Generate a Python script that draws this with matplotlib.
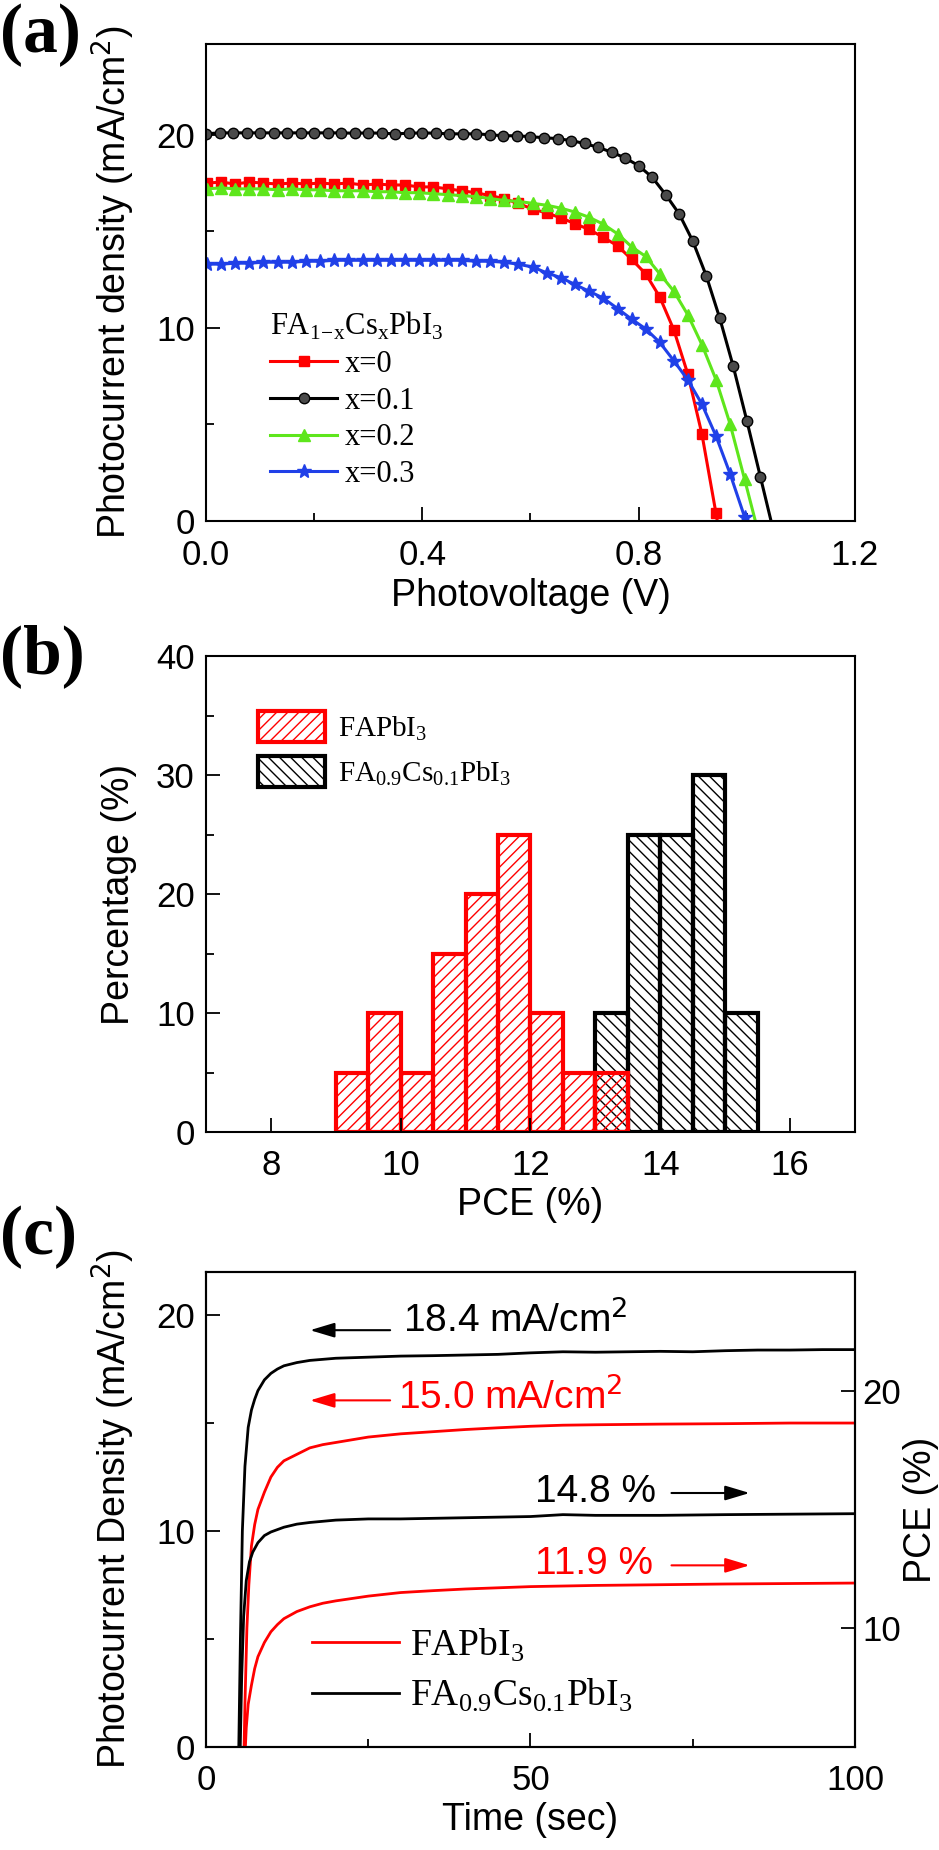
import matplotlib
matplotlib.use("Agg")
import matplotlib.pyplot as plt
from matplotlib.ticker import MultipleLocator

SANS = "Liberation Sans"
SERIF = "Liberation Serif"

# ---- (a) J-V curves, FA(1-x)Cs(x)PbI3 ----
v_x01 = [0.0, 0.025, 0.05, 0.075, 0.1, 0.125, 0.15, 0.175, 0.2, 0.225, 0.25, 0.275, 0.3, 0.325,
         0.35, 0.375, 0.4, 0.425, 0.45, 0.475, 0.5, 0.525, 0.55, 0.575, 0.6, 0.625, 0.65, 0.675,
         0.7, 0.725, 0.75, 0.775, 0.8, 0.825, 0.85, 0.875, 0.9, 0.925, 0.95, 0.975, 1.0, 1.025, 1.05]
j_x01 = [20.05, 20.1, 20.1, 20.1, 20.1, 20.1, 20.1, 20.1, 20.1, 20.1, 20.1, 20.08, 20.1, 20.08,
         20.05, 20.08, 20.1, 20.08, 20.05, 20.05, 20.05, 20.0, 19.95, 19.95, 19.9, 19.85, 19.8, 19.7,
         19.55, 19.35, 19.1, 18.8, 18.4, 17.8, 16.9, 15.9, 14.5, 12.7, 10.5, 8.0, 5.2, 2.3, -0.6]

v_grid = [0.002, 0.028, 0.054, 0.08, 0.106, 0.133, 0.159, 0.185, 0.211, 0.237, 0.263, 0.29, 0.316,
          0.342, 0.368, 0.394, 0.42, 0.447, 0.473, 0.499, 0.525, 0.551, 0.577, 0.604, 0.63, 0.656,
          0.682, 0.708, 0.734, 0.761, 0.787, 0.813, 0.839, 0.865, 0.891, 0.917, 0.943]

v_x0 = v_grid + [0.955]
j_x0 = [17.5, 17.55, 17.45, 17.55, 17.5, 17.45, 17.5, 17.45, 17.5, 17.45, 17.5, 17.4, 17.45,
        17.4, 17.4, 17.3, 17.3, 17.2, 17.1, 17.0, 16.85, 16.7, 16.45, 16.15, 15.95, 15.7,
        15.4, 15.1, 14.7, 14.25, 13.55, 12.8, 11.6, 9.9, 7.6, 4.5, 0.4, -1.6]

v_x02 = v_grid + [0.969, 0.996, 1.025]
j_x02 = [17.2, 17.25, 17.2, 17.2, 17.2, 17.15, 17.2, 17.15, 17.15, 17.1, 17.1, 17.1, 17.05,
         17.05, 17.0, 17.0, 16.95, 16.9, 16.85, 16.8, 16.7, 16.6, 16.55, 16.45, 16.35, 16.2,
         16.0, 15.73, 15.38, 14.87, 14.2, 13.7, 12.8, 11.9, 10.67, 9.13, 7.32, 5.03, 2.15, -1.0]

v_x03 = v_grid + [0.969, 0.996, 1.02]
j_x03 = [13.3, 13.3, 13.35, 13.35, 13.4, 13.4, 13.4, 13.45, 13.45, 13.5, 13.5, 13.5, 13.5,
         13.5, 13.5, 13.5, 13.5, 13.5, 13.5, 13.45, 13.45, 13.4, 13.3, 13.15, 12.85, 12.6,
         12.25, 11.9, 11.55, 11.0, 10.45, 9.95, 9.25, 8.3, 7.3, 6.05, 4.4, 2.45, 0.2, -2.0]

# ---- (b) PCE histogram ----
fa_bins = [9.0, 9.5, 10.0, 10.5, 11.0, 11.5, 12.0, 12.5, 13.0]
fa_pct = [5, 10, 5, 15, 20, 25, 10, 5, 5]
facs_bins = [13.0, 13.5, 14.0, 14.5, 15.0]
facs_pct = [10, 25, 25, 30, 10]
bin_w = 0.5

# ---- (c) stabilised output ----
t_facs_j = [5.0, 5.3, 5.6, 6.0, 6.5, 7.0, 7.5, 8.0, 9.0, 10, 11, 12, 14, 16, 18, 20, 25, 30, 35,
            40, 45, 50, 55, 60, 65, 70, 75, 80, 85, 90, 95, 100]
j_facs = [-1.0, 5.0, 10.0, 13.0, 14.8, 15.6, 16.1, 16.5, 17.0, 17.3, 17.5, 17.65, 17.8, 17.9, 17.95,
          18.0, 18.05, 18.1, 18.12, 18.15, 18.18, 18.25, 18.3, 18.28, 18.3, 18.32, 18.3, 18.35,
          18.38, 18.38, 18.4, 18.4]
t_fa_j = [5.8, 6.0, 6.3, 6.6, 7.0, 7.5, 8.0, 9.0, 10, 11, 12, 14, 16, 18, 20, 25, 30, 35, 40, 45,
          50, 55, 60, 70, 80, 90, 100]
j_fa = [-1.0, 2.0, 5.5, 7.5, 9.3, 10.3, 11.0, 11.8, 12.5, 12.95, 13.25, 13.55, 13.85, 14.0, 14.1,
        14.35, 14.5, 14.6, 14.7, 14.78, 14.85, 14.9, 14.92, 14.95, 14.97, 15.0, 15.0]
t_facs_p = [5.2, 5.5, 5.8, 6.2, 6.7, 7.2, 8, 9, 10, 12, 14, 16, 20, 25, 30, 40, 50, 55, 60, 70,
            80, 90, 100]
pce_facs = [4.0, 8.0, 10.5, 12.0, 12.8, 13.2, 13.6, 13.9, 14.05, 14.25, 14.38, 14.45, 14.55, 14.6,
            14.6, 14.65, 14.7, 14.78, 14.75, 14.75, 14.78, 14.8, 14.82]
t_fa_p = [5.9, 6.2, 6.5, 7.0, 7.5, 8, 9, 10, 11, 12, 14, 16, 18, 20, 25, 30, 35, 40, 50, 60, 70,
          80, 90, 100]
pce_fa = [4.0, 5.8, 6.8, 7.6, 8.3, 8.8, 9.4, 9.85, 10.15, 10.4, 10.7, 10.9, 11.05, 11.15, 11.35,
          11.5, 11.58, 11.65, 11.75, 11.8, 11.83, 11.86, 11.88, 11.9]

RED = "#ff0000"
GREEN = "#5ee61c"
BLUE = "#2040e8"

plt.rcParams["font.family"] = SANS
plt.rcParams["axes.linewidth"] = 1.5
plt.rcParams["hatch.linewidth"] = 1.0
TICK = 25
LAB = 27


def style_axis(ax, pad=8):
    ax.tick_params(which="both", direction="in", width=1.3, labelsize=TICK, pad=pad)
    ax.tick_params(which="major", length=10)
    ax.tick_params(which="minor", length=6)
    for lab in ax.get_xticklabels() + ax.get_yticklabels():
        lab.set_family(SANS)


fig = plt.figure(figsize=(9.39, 18.5), dpi=100)
left, width = 0.2194, 0.6911

# (a)
ax1 = fig.add_axes([left, 0.7184, width, 0.2578])
ax1.plot(v_x0, j_x0, color=RED, lw=2.2, marker="s", ms=7, label="x=0")
ax1.plot(v_x01, j_x01, color="black", lw=2.2, marker="o", ms=7.5, mfc="#4a4a4a", mec="black",
         label="x=0.1")
ax1.plot(v_x02, j_x02, color=GREEN, lw=2.2, marker="^", ms=8.5, label="x=0.2")
ax1.plot(v_x03, j_x03, color=BLUE, lw=2.2, marker="*", ms=10, label="x=0.3")
ax1.set_xlim(0, 1.2)
ax1.set_ylim(0, 24.7)
ax1.xaxis.set_minor_locator(MultipleLocator(0.2))
ax1.yaxis.set_major_locator(MultipleLocator(10))
ax1.yaxis.set_minor_locator(MultipleLocator(5))
ax1.set_xticks([0, 0.4, 0.8, 1.2], ["0.0", "0.4", "0.8", "1.2"])
style_axis(ax1)
ax1.tick_params(axis="x", pad=13)
ax1.set_xlabel("Photovoltage (V)", fontsize=LAB, labelpad=4)
ax1.set_ylabel("Photocurrent density (mA/cm$^2$)", fontsize=LAB, labelpad=14)
ax1.legend(loc="lower left", bbox_to_anchor=(0.075, 0.035), frameon=False,
           prop={"family": SERIF, "size": 22}, numpoints=1, handlelength=2.2,
           handletextpad=0.25, labelspacing=0.25, borderpad=0,
           title="FA$_{\\mathregular{1\\!-\\!x}}$Cs$_{\\mathregular{x}}$PbI$_{\\mathregular{3}}$",
           title_fontproperties={"family": SERIF, "size": 22}, alignment="left")

# (b)
ax2 = fig.add_axes([left, 0.3881, width, 0.2573])
ax2.bar(facs_bins, facs_pct, width=bin_w, align="edge", facecolor="none", edgecolor="black",
        hatch="\\\\\\", linewidth=3,
        label="FA$_{\\mathregular{0.9}}$Cs$_{\\mathregular{0.1}}$PbI$_{\\mathregular{3}}$")
ax2.bar(fa_bins, fa_pct, width=bin_w, align="edge", facecolor="none", edgecolor=RED,
        hatch="///", linewidth=3, label="FAPbI$_{\\mathregular{3}}$")
ax2.set_xlim(7, 17)
ax2.set_ylim(0, 40)
ax2.xaxis.set_major_locator(MultipleLocator(2))
ax2.yaxis.set_major_locator(MultipleLocator(10))
ax2.yaxis.set_minor_locator(MultipleLocator(5))
style_axis(ax2)
ax2.tick_params(axis="x", pad=12)
ax2.set_xlabel("PCE (%)", fontsize=LAB, labelpad=4)
ax2.set_ylabel("Percentage (%)", fontsize=LAB, labelpad=14)
h, l = ax2.get_legend_handles_labels()
ax2.legend(h[::-1], l[::-1], loc="upper left", bbox_to_anchor=(0.058, 0.915), frameon=False,
           prop={"family": SERIF, "size": 21}, handlelength=2.3, handleheight=1.25,
           handletextpad=0.45, labelspacing=0.45, borderpad=0)

# (c)
ax3 = fig.add_axes([left, 0.0557, width, 0.2568])
ax3r = ax3.twinx()
ax3.plot(t_facs_j, j_facs, color="black", lw=2.0,
         label="FA$_{\\mathregular{0.9}}$Cs$_{\\mathregular{0.1}}$PbI$_{\\mathregular{3}}$")
ax3.plot(t_fa_j, j_fa, color=RED, lw=2.0, label="FAPbI$_{\\mathregular{3}}$")
ax3r.plot(t_facs_p, pce_facs, color="black", lw=2.0)
ax3r.plot(t_fa_p, pce_fa, color=RED, lw=2.0)
ax3.set_xlim(0, 100)
ax3.set_ylim(0, 22)
ax3r.set_ylim(5, 25)
ax3.xaxis.set_major_locator(MultipleLocator(50))
ax3.xaxis.set_minor_locator(MultipleLocator(25))
ax3.yaxis.set_major_locator(MultipleLocator(10))
ax3.yaxis.set_minor_locator(MultipleLocator(5))
ax3r.yaxis.set_major_locator(MultipleLocator(10))
style_axis(ax3)
style_axis(ax3r, pad=5)
ax3.tick_params(axis="x", pad=12)
ax3.set_xlabel("Time (sec)", fontsize=LAB, labelpad=4)
ax3.set_ylabel("Photocurrent Density (mA/cm$^2$)", fontsize=LAB, labelpad=14)
ax3r.set_ylabel("PCE (%)", fontsize=LAB, labelpad=2)
h, l = ax3.get_legend_handles_labels()
ax3.legend(h[::-1], l[::-1], loc="lower left", bbox_to_anchor=(0.135, 0.03), frameon=False,
           prop={"family": SERIF, "size": 27}, handlelength=2.3, handletextpad=0.3,
           labelspacing=0.35, borderpad=0)

arrow = dict(arrowstyle="-|>,head_length=1.0,head_width=0.3", lw=1.5, mutation_scale=15)
ax3.annotate("", xy=(15.6, 19.3), xytext=(28.8, 19.3), arrowprops=dict(color="black", **arrow))
ax3.text(30.4, 19.75, "18.4 mA/cm$^2$", fontsize=28, va="center", ha="left", color="black")
ax3.annotate("", xy=(15.6, 16.05), xytext=(28.8, 16.05), arrowprops=dict(color=RED, **arrow))
ax3.text(29.6, 16.2, "15.0 mA/cm$^2$", fontsize=28, va="center", ha="left", color=RED)
ax3.annotate("", xy=(84.2, 11.76), xytext=(71.3, 11.76), arrowprops=dict(color="black", **arrow))
ax3.text(50.7, 11.8, "14.8 %", fontsize=28, va="center", ha="left", color="black")
ax3.annotate("", xy=(84.2, 8.41), xytext=(71.3, 8.41), arrowprops=dict(color=RED, **arrow))
ax3.text(50.7, 8.45, "11.9 %", fontsize=28, va="center", ha="left", color=RED)

# panel labels
for lab, ytop in [("(a)", 3), ("(b)", 624), ("(c)", 1205)]:
    fig.text(0.0, 1 - ytop / 1850, lab, fontsize=50, fontweight="bold", family=SERIF,
             ha="left", va="top")

fig.savefig("out.png", dpi=100)
